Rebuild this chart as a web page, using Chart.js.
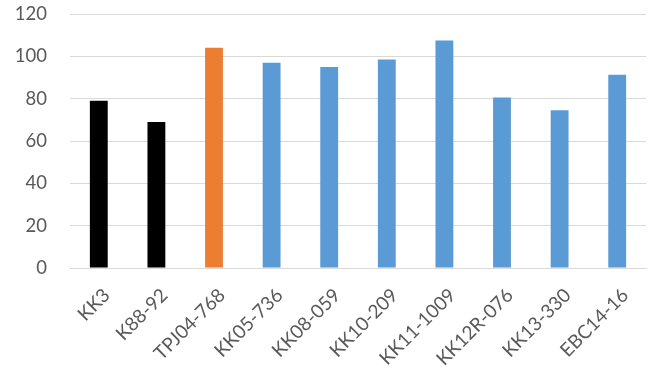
<!DOCTYPE html>
<html>
<head>
<meta charset="utf-8">
<script src="https://cdn.jsdelivr.net/npm/chart.js@4/dist/chart.umd.min.js"></script>
<style>
  html, body { margin: 0; padding: 0; background: #ffffff; }
  #wrap { width: 654px; height: 369px; position: relative; }
</style>
</head>
<body>
<div id="wrap"><canvas id="chart"></canvas></div>
<script>
// Cultivar names along the x axis
const categories = ['KK3', 'K88-92', 'TPJ04-768', 'KK05-736', 'KK08-059', 'KK10-209', 'KK11-1009', 'KK12R-076', 'KK13-330', 'EBC14-16'];
// Measured value for each cultivar
const values = [79, 69, 104, 97, 95, 98.5, 107.5, 80.5, 74.5, 91.3];
// Bar colour group per cultivar: checks, reference line, new lines
const groups = ['check', 'check', 'reference', 'line', 'line', 'line', 'line', 'line', 'line', 'line'];
const groupColors = { check: '#000000', reference: '#ED7D31', line: '#5B9BD5' };
// Y axis range and step
const yMin = 0, yMax = 120, yStep = 20;

const FONT = 'Lato, "Open Sans", sans-serif';

new Chart(document.getElementById('chart'), {
  type: 'bar',
  data: {
    labels: categories,
    datasets: [{
      data: values,
      backgroundColor: groups.map(g => groupColors[g]),
      borderWidth: 0,
      categoryPercentage: 1,
      barPercentage: 0.31
    }]
  },
  options: {
    responsive: true,
    maintainAspectRatio: false,
    animation: false,
    layout: { padding: { top: 14, right: 8, left: 0, bottom: 0 } },
    plugins: { legend: { display: false }, tooltip: { enabled: false } },
    scales: {
      x: {
        afterFit: (scale) => { scale.height = 101; },
        grid: { display: false, drawTicks: false },
        border: { display: true, color: '#d9d9d9', width: 1 },
        ticks: {
          color: '#595959',
          font: { family: FONT, size: 19 },
          minRotation: 45,
          maxRotation: 45,
          padding: 16,
          labelOffset: 8,
          autoSkip: false
        }
      },
      y: {
        min: yMin,
        max: yMax,
        afterFit: (scale) => {
          scale.width = 70;
          scale.paddingTop = 0;
          scale.paddingBottom = 0;
        },
        grid: { color: '#d9d9d9', lineWidth: 1, drawTicks: false },
        border: { display: false },
        ticks: {
          stepSize: yStep,
          color: '#595959',
          font: { family: FONT, size: 18.5 },
          padding: 23
        }
      }
    }
  }
});
</script>
</body>
</html>
